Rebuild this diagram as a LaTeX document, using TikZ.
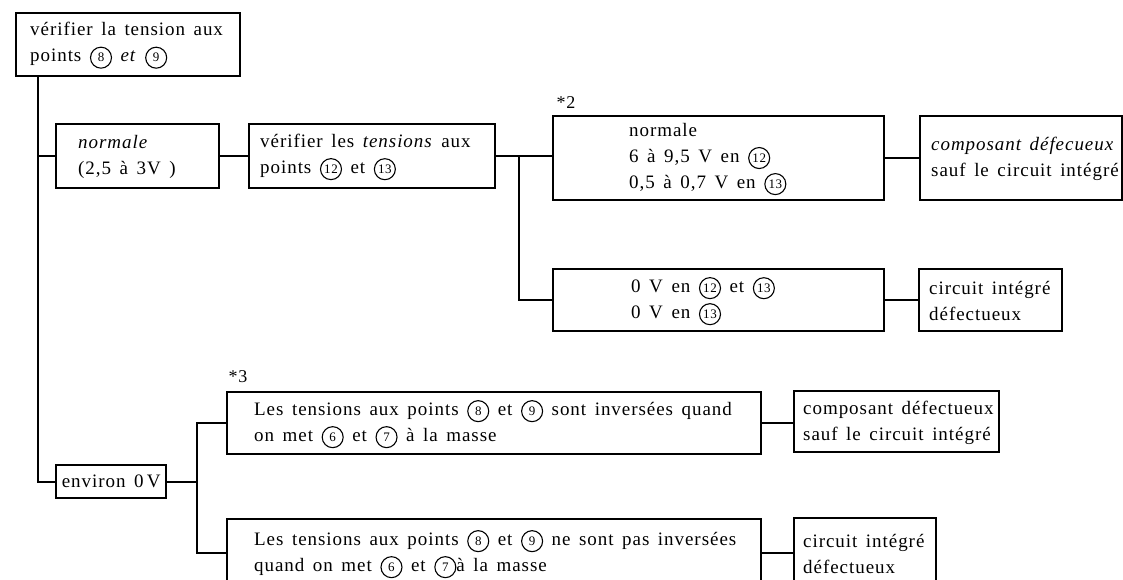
\documentclass[tikz,border=0pt]{standalone}
\usepackage{fontspec}
\setmainfont{Liberation Serif}[LetterSpace=5, WordSpace=1.5]
\usetikzlibrary{calc}
\newcommand\cn[1]{\tikz[baseline=(cnum.base)]\node[circle,draw,line width=1.1pt,inner sep=0pt,minimum size=21pt,font=\fontsize{13}{13}\selectfont](cnum){#1};}
\begin{document}
\begin{tikzpicture}[x=1pt,y=-1pt,
  box/.style={draw,line width=2.3pt,inner sep=0pt,anchor=north west},
  txt/.style={anchor=west,align=left,inner sep=0pt,font=\fontsize{19}{26}\selectfont},
  lab/.style={inner sep=0pt,font=\fontsize{18}{18}\selectfont},
  wire/.style={line width=2.3pt}]
\useasboundingbox (0,0) rectangle (1123,579);
\clip (0,0) rectangle (1123,579);
% boxes
\node[box,minimum width=224pt,minimum height=63pt] (a) at (15,12) {};
\node[box,minimum width=163pt,minimum height=64pt] (n1) at (55,123) {};
\node[box,minimum width=246pt,minimum height=64pt] (v) at (248,123) {};
\node[box,minimum width=331pt,minimum height=84pt] (b1) at (552,115) {};
\node[box,minimum width=202pt,minimum height=84pt] (r1) at (919,115) {};
\node[box,minimum width=331pt,minimum height=62pt] (b2) at (552,268) {};
\node[box,minimum width=143pt,minimum height=62pt] (r2) at (918,268) {};
\node[box,minimum width=110pt,minimum height=33pt,font=\fontsize{19}{20}\selectfont] (env) at (55,464) {environ 0\,V};
\node[box,minimum width=534pt,minimum height=62pt] (c1) at (226,391) {};
\node[box,minimum width=205pt,minimum height=61pt] (r3) at (793,390) {};
\node[box,minimum width=534pt,minimum height=68pt] (c2) at (226,518) {};
\node[box,minimum width=142pt,minimum height=69pt] (r4) at (793,517) {};
% texts
\node[txt] (ta) at ($(a.west)+(15,1)$) {vérifier la tension aux\\points \cn{8} \textit{et} \cn{9}};
\node[txt] (tn1) at ($(n1.west)+(23,1)$) {\textit{normale}\\(2,5 à 3V )};
\node[txt] (tv) at ($(v.west)+(12,1)$) {vérifier les \textit{tensions} aux\\points \cn{12} et \cn{13}};
\node[txt] (tb1) at ($(b1.west)+(77,1)$) {normale\\6 à 9,5 V en \cn{12}\\0,5 à 0,7 V en \cn{13}};
\node[txt] (tr1) at ($(r1.west)+(12,1)$) {\textit{composant défecueux}\\sauf le circuit intégré};
\node[txt] (tb2) at ($(b2.west)+(79,1)$) {0 V en \cn{12} et \cn{13}\\0 V en \cn{13}};
\node[txt] (tr2) at ($(r2.west)+(11,1)$) {circuit intégré\\défectueux};
\node[txt] (tc1) at ($(c1.west)+(28,1)$) {Les tensions aux points \cn{8} et \cn{9} sont inversées quand\\on met \cn{6} et \cn{7} à la masse};
\node[txt] (tr3) at ($(r3.west)+(10,1)$) {composant défectueux\\sauf le circuit intégré};
\node[txt] (tc2) at ($(c2.west)+(28,1)$) {Les tensions aux points \cn{8} et \cn{9} ne sont pas inversées\\quand on met \cn{6} et \cn{7}à la masse};
\node[txt] (tr4) at ($(r4.west)+(10,1)$) {circuit intégré\\défectueux};
\node[lab] (s2) at (566,103) {*2};
\node[lab] (s3) at (238,377) {*3};
% connectors
\coordinate (t0) at ($(a.south west)+(23,0)$);
\draw[wire] (t0) |- (n1.west);
\draw[wire] (t0) |- (env.west);
\draw[wire] (n1.east) -- (v.west);
\coordinate (j1) at ($(v.east)+(23,0)$);
\draw[wire] (v.east) -- (v.east -| b1.west);
\draw[wire] (j1) |- (b2.west);
\draw[wire] (b1.east) -- (b1.east -| r1.west);
\draw[wire] (b2.east) -- (b2.east -| r2.west);
\coordinate (j2) at ($(env.east)+(30,0)$);
\draw[wire] (env.east) -- (j2);
\draw[wire] (c1.west) -| (j2) |- (c2.west);
\draw[wire] (c1.east) -- (c1.east -| r3.west);
\draw[wire] (c2.east) -- (c2.east -| r4.west);
\end{tikzpicture}
\end{document}
